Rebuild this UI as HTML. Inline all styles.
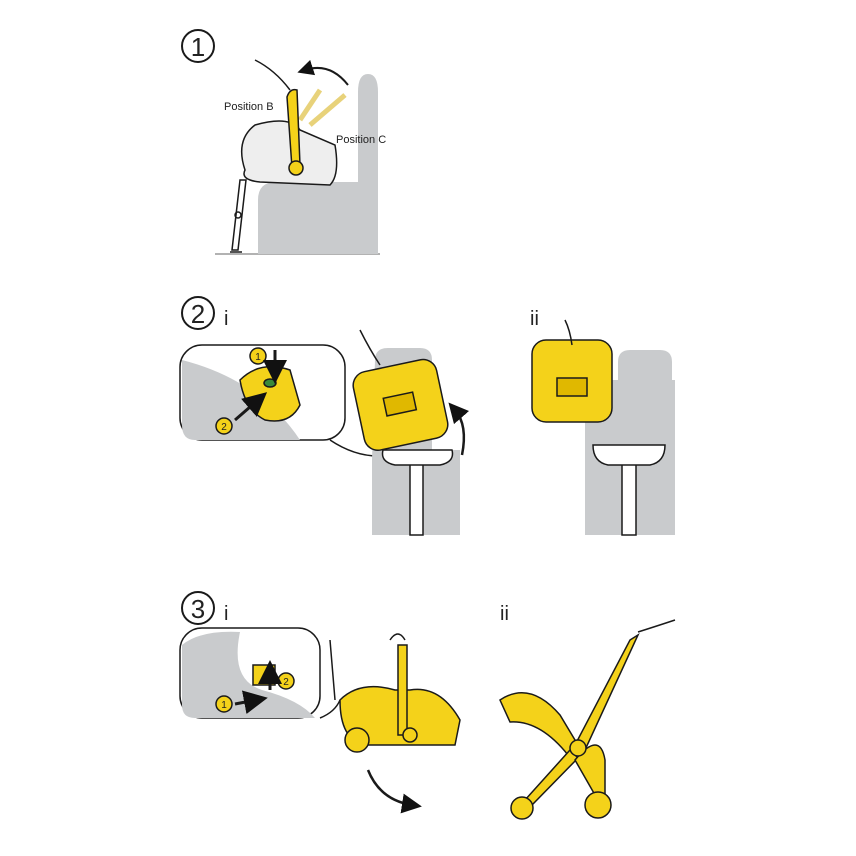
<!DOCTYPE html>
<html><head><meta charset="utf-8"><style>
html,body{margin:0;padding:0;background:#fff;}
svg{display:block;}
text{font-family:"Liberation Sans",sans-serif;}
</style></head><body>
<svg width="856" height="856" viewBox="0 0 856 856" xmlns="http://www.w3.org/2000/svg">
<defs>
<marker id="ah" markerWidth="8" markerHeight="8" refX="4" refY="4" orient="auto"><path d="M0,0 L8,4 L0,8 Z" fill="#111"/></marker>
</defs>
<g stroke="#1a1a1a" stroke-width="1.5" fill="none">
<!-- STEP 1 -->
<circle cx="198" cy="46" r="16" stroke-width="2"/>
<text x="198" y="56" font-size="26" text-anchor="middle" fill="#222" stroke="none">1</text>
<path d="M215,254 H380" stroke="#999"/>
<path d="M258,254 V200 Q258,182 276,182 H358 V92 Q358,74 368,74 Q378,74 378,92 V254 Z" fill="#c9cbcd" stroke="none"/>
<path d="M232,250 L240,180 L246,180 L238,250 Z" fill="#fff"/>
<circle cx="238" cy="215" r="3"/>
<path d="M230,252 H242"/>
<path d="M245,170 Q235,140 255,125 Q290,115 300,130 L335,145 Q340,175 330,185 L260,182 Q240,180 245,170 Z" fill="#eee"/>
<path d="M300,120 L320,90 M310,125 L345,95" stroke="#e8d27a" stroke-width="5"/>
<path d="M287,97 Q290,88 297,90 L300,165 L292,168 Z" fill="#f4d21a"/>
<circle cx="296" cy="168" r="7" fill="#f4d21a"/>
<path d="M255,60 Q275,70 290,90" />
<path d="M348,85 Q330,62 305,70" marker-end="url(#ah)" stroke-width="2"/>
<text x="224" y="110" font-size="11" fill="#222" stroke="none">Position B</text>
<text x="336" y="143" font-size="11" fill="#222" stroke="none">Position C</text>

<!-- STEP 2 -->
<circle cx="198" cy="313" r="16" stroke-width="2"/>
<text x="198" y="323" font-size="26" text-anchor="middle" fill="#222" stroke="none">2</text>
<text x="224" y="325" font-size="20" fill="#222" stroke="none">i</text>
<rect x="180" y="345" width="165" height="95" rx="22" fill="#fff"/>
<path d="M182,360 Q260,380 300,440 L195,440 Q182,440 182,425 Z" fill="#c9cbcd" stroke="none"/>
<path d="M240,380 Q260,360 290,370 L300,405 Q290,425 265,420 Q245,410 240,380 Z" fill="#f4d21a"/>
<ellipse cx="270" cy="383" rx="6" ry="4" fill="#3a8a3a"/>
<circle cx="258" cy="356" r="8" fill="#f4d21a"/><text x="258" y="360" font-size="10" text-anchor="middle" fill="#222" stroke="none">1</text>
<circle cx="224" cy="426" r="8" fill="#f4d21a"/><text x="224" y="430" font-size="10" text-anchor="middle" fill="#222" stroke="none">2</text>
<path d="M275,350 V372" stroke-width="3" marker-end="url(#ah)"/>
<path d="M235,420 L258,400" stroke-width="3" marker-end="url(#ah)"/>
<path d="M330,440 Q360,460 390,455"/>
<path d="M375,360 Q375,348 388,348 H420 Q432,348 432,360 V450 H460 V535 H372 V460 Z" fill="#c9cbcd" stroke="none"/>
<rect x="410" y="455" width="13" height="80" fill="#fff"/>
<path d="M383,450 H452 Q455,462 440,465 H395 Q380,462 383,450 Z" fill="#fff"/>
<g transform="rotate(-12 400 405)"><rect x="358" y="365" width="85" height="80" rx="14" fill="#f4d21a"/><rect x="385" y="395" width="30" height="18" fill="#e0b800"/></g>
<path d="M360,330 Q370,350 380,365"/>
<path d="M462,455 Q468,425 455,410" stroke-width="2.5" marker-end="url(#ah)"/>
<text x="530" y="325" font-size="20" fill="#222" stroke="none">ii</text>
<path d="M618,362 Q618,350 630,350 H660 Q672,350 672,362 V380 H675 V535 H585 V380 H618 Z" fill="#c9cbcd" stroke="none"/>
<rect x="622" y="455" width="14" height="80" fill="#fff"/>
<path d="M593,445 H665 Q665,462 650,465 H608 Q593,462 593,445 Z" fill="#fff"/>
<rect x="532" y="340" width="80" height="82" rx="14" fill="#f4d21a"/>
<rect x="557" y="378" width="30" height="18" fill="#e0b800"/>
<path d="M565,320 Q570,330 572,345"/>

<!-- STEP 3 -->
<circle cx="198" cy="608" r="16" stroke-width="2"/>
<text x="198" y="618" font-size="26" text-anchor="middle" fill="#222" stroke="none">3</text>
<text x="224" y="620" font-size="20" fill="#222" stroke="none">i</text>
<rect x="180" y="628" width="140" height="90" rx="22" fill="#fff"/>
<path d="M182,645 Q200,630 240,632 Q230,680 262,690 Q300,700 315,718 H195 Q182,718 182,705 Z" fill="#c9cbcd" stroke="none"/>
<rect x="253" y="665" width="22" height="20" fill="#f4d21a"/>
<circle cx="286" cy="681" r="8" fill="#f4d21a"/><text x="286" y="685" font-size="10" text-anchor="middle" fill="#222" stroke="none">2</text>
<circle cx="224" cy="704" r="8" fill="#f4d21a"/><text x="224" y="708" font-size="10" text-anchor="middle" fill="#222" stroke="none">1</text>
<path d="M270,690 V672" stroke-width="3" marker-end="url(#ah)"/>
<path d="M235,704 L256,700" stroke-width="3" marker-end="url(#ah)"/>
<path d="M320,718 Q335,712 340,700 M330,640 L335,700"/>
<path d="M340,700 Q360,680 395,690 L410,690 Q440,685 460,720 L455,745 H365 Q340,740 340,700 Z" fill="#f4d21a"/>
<rect x="398" y="645" width="9" height="90" fill="#f4d21a"/>
<circle cx="357" cy="740" r="12" fill="#f4d21a"/>
<circle cx="410" cy="735" r="7" fill="#f4d21a"/>
<path d="M390,640 Q398,628 405,640"/>
<path d="M368,770 Q380,800 412,805" stroke-width="2.5" marker-end="url(#ah)"/>
<text x="500" y="620" font-size="20" fill="#222" stroke="none">ii</text>
<path d="M500,700 Q530,680 560,715 L578,745 L568,755 Q540,720 510,722 Z" fill="#f4d21a"/>
<path d="M630,640 L638,635 L585,750 L575,745 Z" fill="#f4d21a"/>
<path d="M570,750 L525,800 L532,805 L578,758 Z" fill="#f4d21a"/>
<path d="M575,760 Q600,730 605,760 L605,795 L595,795 Z" fill="#f4d21a"/>
<circle cx="578" cy="748" r="8" fill="#f4d21a"/>
<circle cx="522" cy="808" r="11" fill="#f4d21a"/>
<circle cx="598" cy="805" r="13" fill="#f4d21a"/>
<path d="M638,632 Q660,625 675,620"/>
</g>
</svg>
</body></html>
